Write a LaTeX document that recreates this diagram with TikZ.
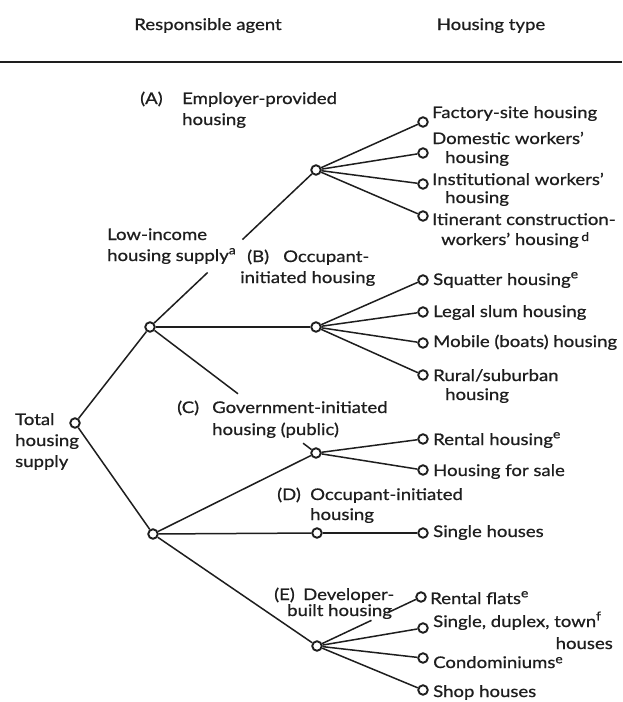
\documentclass[tikz,border=0pt]{standalone}
\usepackage{fontspec}
\setmainfont{Lato}[FakeStretch=1.16,FakeBold=0.7]
\usetikzlibrary{calc}
\newcommand\fsz{\fontsize{16}{19}\selectfont}
\newcommand\supmark[2][0.42em]{\raisebox{#1}{\fontsize{12}{12}\selectfont #2}}
\definecolor{ink}{HTML}{1E1E1E}
\begin{document}
\begin{tikzpicture}[x=1pt,y=-1pt,
  lbl/.style={anchor=base west, inner sep=0pt, font=\fsz, text=ink},
  hdr/.style={anchor=base, inner sep=0pt, font=\fsz, text=ink},
  dot/.style={circle, draw=ink, line width=1.9pt, minimum size=9.5pt, inner sep=0pt, fill=white},
  conn/.style={draw=ink, line width=1.5pt},
]
\useasboundingbox (0,0) rectangle (622,702);
\fill[white] (0,0) rectangle (622,702);
% header
\node[hdr] (h1) at (208,30) {Responsible agent};
\node[hdr] (h2) at (491,30) {Housing type};
\coordinate (r1) at (0,62);
\coordinate (r2) at (622,62);
\draw[draw=ink, line width=2pt] (r1) -- (r2);
% branch nodes
\node[dot] (tot) at (75,423) {};
\node[dot] (low) at (150,327) {};
\node[dot] (nA) at (316,170) {};
\node[dot] (nB) at (316,327) {};
\node[dot] (nC) at (316,453) {};
\node[dot] (low2) at (153,534) {};
\node[dot] (nD) at (317,533) {};
\node[dot] (nE) at (317,646) {};
% leaves
\node[dot] (a1) at (423,122) {};
\node[dot] (a2) at (423,153) {};
\node[dot] (a3) at (423,184) {};
\node[dot] (a4) at (423,216) {};
\node[dot] (b1) at (423,280) {};
\node[dot] (b2) at (423,312) {};
\node[dot] (b3) at (423,343) {};
\node[dot] (b4) at (423,375) {};
\node[dot] (c1) at (423,439) {};
\node[dot] (c2) at (423,470) {};
\node[dot] (d1) at (423,533) {};
\node[dot] (e1) at (421,597) {};
\node[dot] (e2) at (423,628) {};
\node[dot] (e3) at (423,658) {};
\node[dot] (e4) at (423,690) {};
% gap coordinates (where lines pass behind labels)
\coordinate (gA1) at ($(low)!0.347!(nA)$);
\coordinate (gA2) at ($(low)!0.557!(nA)$);
\coordinate (gC1) at ($(low)!0.53!(nC)$);
\coordinate (gC2) at ($(low)!0.922!(nC)$);
\coordinate (gE1) at ($(nE)!0.524!(e1)$);
\coordinate (gE2) at ($(nE)!0.676!(e1)$);
% connectors
\draw[conn] (tot) -- (low);
\draw[conn] (tot) -- (low2);
\draw[conn] (low) -- (gA1);
\draw[conn] (gA2) -- (nA);
\draw[conn] (low) -- (nB);
\draw[conn] (low) -- (gC1);
\draw[conn] (gC2) -- (nC);
\draw[conn] (low2) -- (nC);
\draw[conn] (low2) -- (nD);
\draw[conn] (low2) -- (nE);
\foreach \l in {a1,a2,a3,a4} \draw[conn] (nA) -- (\l);
\foreach \l in {b1,b2,b3,b4} \draw[conn] (nB) -- (\l);
\foreach \l in {c1,c2} \draw[conn] (nC) -- (\l);
\draw[conn] (nD) -- (d1);
\draw[conn] (nE) -- (gE1);
\draw[conn] (gE2) -- (e1);
\foreach \l in {e2,e3,e4} \draw[conn] (nE) -- (\l);
% agent labels
\node[lbl] (tTot1) at (15,425) {Total};
\node[lbl] (tTot2) at (15,446) {housing};
\node[lbl] (tTot3) at (15,467) {supply};
\node[lbl] (tLow1) at (107,240) {Low-income};
\node[lbl] (tLow2) at (107,261) {housing supply\supmark{a}};
\node[lbl] (tAk) at (140,104) {(A)};
\node[lbl] (tA1) at (182,104) {Employer-provided};
\node[lbl] (tA2) at (182,125) {housing};
\node[lbl] (tBk) at (247,262) {(B)};
\node[lbl] (tB1) at (283,262) {Occupant-};
\node[lbl] (tB2) at (240,283) {initiated housing};
\node[lbl] (tCk) at (177,413) {(C)};
\node[lbl] (tC1) at (212,413) {Government-initiated};
\node[lbl] (tC2) at (212,435) {housing (public)};
\node[lbl] (tDk) at (277,500) {(D)};
\node[lbl] (tD1) at (310,500) {Occupant-initiated};
\node[lbl] (tD2) at (310,520) {housing};
\node[lbl] (tEk) at (274,600) {(E)};
\node[lbl] (tE1) at (303,600) {Developer-};
\node[lbl] (tE2) at (287,616) {built housing};
% housing type labels
\node[lbl] (la1) at (432,118) {Factory-site housing};
\node[lbl] (la2a) at (432,144) {Domestic workers'};
\node[lbl] (la2b) at (445,163) {housing};
\node[lbl] (la3a) at (432,185) {Institutional workers'};
\node[lbl] (la3b) at (445,203) {housing};
\node[lbl] (la4a) at (432,225) {Itinerant construction-};
\node[lbl] (la4b) at (441,245) {workers' housing\,\supmark[0.25em]{d}};
\node[lbl] (lb1) at (433,285) {Squatter housing\supmark{e}};
\node[lbl] (lb2) at (433,317) {Legal slum housing};
\node[lbl] (lb3) at (433,347) {Mobile (boats) housing};
\node[lbl] (lb4a) at (433,381) {Rural/suburban};
\node[lbl] (lb4b) at (445,400) {housing};
\node[lbl] (lc1) at (433,445) {Rental housing\supmark{e}};
\node[lbl] (lc2) at (433,476) {Housing for sale};
\node[lbl] (ld1) at (433,537) {Single houses};
\node[lbl] (le1) at (430,604) {Rental flats\supmark{e}};
\node[lbl] (le2a) at (433,627) {Single, duplex, town\supmark{f}};
\node[lbl, anchor=base east] (le2b) at (613,649) {houses};
\node[lbl] (le3) at (433,668) {Condominiums\supmark[0.3em]{e}};
\node[lbl] (le4) at (433,697) {Shop houses};
\end{tikzpicture}
\end{document}
